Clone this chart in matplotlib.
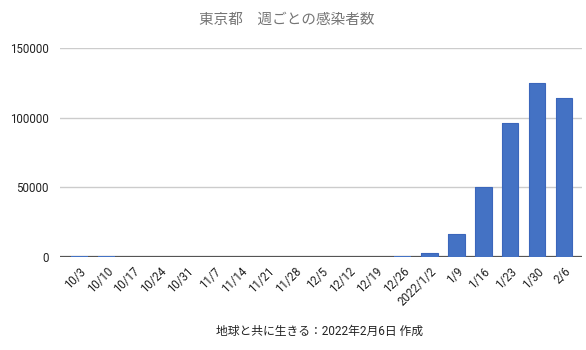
import numpy as np
import matplotlib.pyplot as plt

plt.rcParams['font.family'] = ['Roboto', 'Noto Sans CJK JP', 'DejaVu Sans']

weeks = ['10/3', '10/10', '10/17', '10/24', '10/31', '11/7', '11/14', '11/21',
         '11/28', '12/5', '12/12', '12/19', '12/26', '2022/1/2', '1/9', '1/16',
         '1/23', '1/30', '2/6']
cases = [800, 600, 60, 50, 40, 40, 40, 40, 40, 40, 40, 50, 500,
         2900, 16100, 49900, 96200, 125200, 114400]
yticks = [0, 50000, 100000, 150000]

fig = plt.figure(figsize=(5.86, 3.5), dpi=100)
ax = fig.add_axes([60/586, 1-256.7/350, 522/586, 208.4/350])

x = np.arange(len(weeks))
ax.bar(x, cases, width=0.62, color='#4472c4', edgecolor='none', zorder=3)
# darker outline only on the visible bars
big = [i for i, v in enumerate(cases) if v > 1000]
ax.bar(x[big], [cases[i] for i in big], width=0.62, color='none',
       edgecolor='#3b66bb', linewidth=0.8, zorder=3)

ax.set_xlim(-0.725, 18.67)
ax.set_ylim(0, 150000)
ax.set_yticks(yticks)
ax.set_yticklabels([str(v) for v in yticks], fontsize=8.3, color='#222222')
ax.yaxis.grid(True, color='#cccccc', linewidth=1)
ax.axhline(0, color='#555555', linewidth=1.6, zorder=2)
ax.set_xticks(x)
ax.set_xticklabels(weeks, rotation=45, ha='right', rotation_mode='anchor',
                   fontsize=8.3, color='#222222')
ax.tick_params(length=0)
ax.tick_params(axis='x', pad=6)
ax.tick_params(axis='y', pad=8)
for s in ax.spines.values():
    s.set_visible(False)

fig.text(0.49, 1-20/350, '東京都　週ごとの感染者数', ha='center', va='center',
         fontsize=10.5, color='#757575')
fig.text(0.545, 1-331/350, '地球と共に生きる：2022年2月6日 作成', ha='center', va='center',
         fontsize=8.5, color='#222222')

fig.savefig('out.png', dpi=100)
